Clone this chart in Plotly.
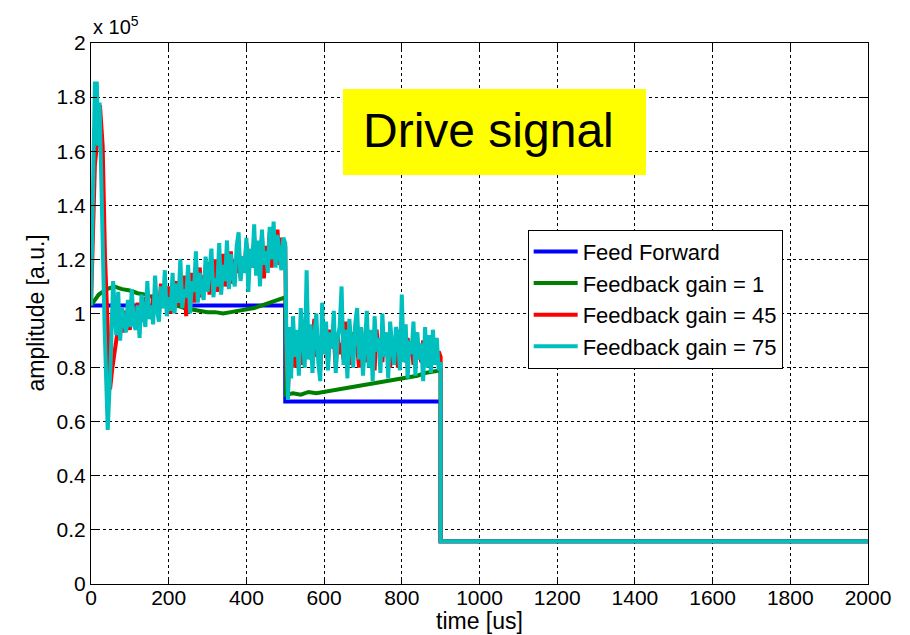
import plotly.graph_objects as go

# ---------------------------------------------------------------
# Drive signal amplitude (units of 1e5 a.u.) versus time in microseconds
# ---------------------------------------------------------------

# Feed forward: piecewise constant drive
ff_time = [0, 500, 500, 900, 900, 2000]
ff_amp = [1.03, 1.03, 0.675, 0.675, 0.158, 0.158]

# Feedback gain = 1: slow correction around the feed-forward level
g1_time = [0, 10, 20, 30, 40, 50, 60, 70, 80, 100, 120, 140, 160, 180, 200,
           220, 240, 260, 280, 300, 320, 340, 360, 380, 400, 420, 440, 460,
           480, 495, 500, 502, 520, 540, 560, 580, 600, 620, 640, 660, 680,
           700, 720, 740, 760, 780, 800, 820, 840, 860, 880, 895, 900, 900,
           2000]
g1_amp = [1.03, 1.05, 1.07, 1.08, 1.09, 1.095, 1.10, 1.095, 1.09, 1.085,
          1.075, 1.07, 1.06, 1.05, 1.04, 1.03, 1.02, 1.015, 1.01, 1.005,
          1.005, 1.0, 1.005, 1.01, 1.015, 1.02, 1.03, 1.04, 1.05, 1.055,
          1.06, 0.70, 0.705, 0.70, 0.71, 0.705, 0.71, 0.715, 0.72, 0.725,
          0.73, 0.735, 0.74, 0.745, 0.75, 0.755, 0.76, 0.765, 0.77, 0.78,
          0.785, 0.79, 0.79, 0.158, 0.158]

# Feedback gain = 45
g45_time = ([0, 5, 10, 15, 23, 30, 36, 44, 49, 55, 62, 70, 75]
            + list(range(80, 500, 5))
            + [500, 503, 507, 512]
            + list(range(515, 900, 5))
            + [900, 900, 2000])
g45_amp = [1.03, 1.30, 1.55, 1.62, 1.77, 1.62, 1.21, 0.91, 0.72, 0.80, 0.88, 0.95, 0.96,
           # 80 .. 495
           0.99, 0.93, 1.01, 0.97, 0.94, 1.03, 0.96, 0.99, 1.04, 0.95,
           1.02, 0.97, 1.06, 0.99, 1.03, 0.98, 1.07, 1.01, 1.05, 1.00,
           1.11, 1.02, 1.08, 1.03, 1.10, 1.00, 1.09, 1.04, 1.12, 1.03,
           1.10, 1.05, 1.14, 0.99, 1.11, 1.06, 1.15, 1.04, 1.13, 1.08,
           1.17, 1.06, 1.14, 1.09, 1.19, 1.07, 1.16, 1.11, 1.20, 1.08,
           1.17, 1.12, 1.22, 1.10, 1.18, 1.13, 1.23, 1.11, 1.20, 1.15,
           1.25, 1.13, 1.21, 1.16, 1.26, 1.14, 1.22, 1.17, 1.28, 1.15,
           1.23, 1.18, 1.29, 1.13, 1.25, 1.19, 1.30, 1.17, 1.26, 1.21,
           1.31, 1.18, 1.28, 1.22,
           # step down at 500
           1.25, 0.80, 0.72, 0.88,
           # 515 .. 895
           0.83, 0.92, 0.80, 0.89, 0.85, 0.94, 0.81, 0.90, 0.86, 0.95,
           0.83, 0.91, 0.98, 0.84, 0.89, 0.79, 0.93, 0.85, 0.90, 0.82,
           0.94, 0.87, 0.91, 0.80, 0.92, 0.85, 0.89, 0.83, 0.97, 0.84,
           0.90, 0.81, 0.93, 0.86, 0.88, 0.80, 0.95, 0.84, 0.89, 0.82,
           0.92, 0.85, 0.90, 0.79, 0.94, 0.86, 0.88, 0.82, 0.93, 0.85,
           0.89, 0.80, 0.91, 0.84, 0.90, 0.80, 0.92, 0.86, 0.88, 0.82,
           0.91, 0.84, 0.89, 0.81, 0.93, 0.85, 0.87, 0.82, 0.90, 0.84,
           0.88, 0.81, 0.92, 0.84, 0.90, 0.82, 0.86,
           # final step
           0.84, 0.158, 0.158]

# Feedback gain = 75
g75_time = ([0, 5, 10, 15, 18, 22, 28, 35, 43, 50, 57]
            + list(range(60, 500, 5))
            + [500, 503, 507, 512]
            + list(range(515, 900, 5))
            + [900, 900, 2000])
g75_amp = [1.03, 1.45, 1.85, 1.85, 1.62, 1.78, 1.35, 0.95, 0.57, 0.80, 1.12,
           # 60 .. 495
           1.06, 0.92, 1.08, 0.90, 1.02, 0.97, 0.93, 1.05, 0.95, 1.09,
           0.96, 0.94, 1.03, 0.91, 1.07, 1.00, 0.95, 1.12, 0.98, 1.03,
           0.96, 1.14, 1.01, 0.97, 1.10, 1.02, 1.16, 0.99, 1.06, 1.01,
           1.15, 1.00, 1.11, 1.04, 1.20, 1.02, 1.09, 1.06, 1.18, 1.00,
           1.12, 1.08, 1.23, 1.04, 1.15, 1.09, 1.05, 1.21, 1.08, 1.16,
           1.24, 1.06, 1.13, 1.10, 1.26, 1.07, 1.18, 1.12, 1.27, 1.09,
           1.22, 1.14, 1.10, 1.25, 1.30, 1.12, 1.21, 1.15, 1.28, 1.08,
           1.24, 1.17, 1.33, 1.14, 1.27, 1.10, 1.31, 1.18, 1.23, 1.15,
           1.32, 1.20, 1.34, 1.17, 1.29, 1.22, 1.16, 1.28,
           # step down at 500
           1.26, 0.90, 0.68, 0.95,
           # 515 .. 895
           0.76, 0.99, 0.84, 0.94, 0.77, 1.02, 0.88, 0.80, 1.16, 0.83,
           0.96, 0.78, 0.92, 1.00, 0.82, 0.75, 1.04, 0.85, 0.97, 0.79,
           0.93, 0.87, 1.01, 0.78, 0.91, 0.95, 1.10, 0.81, 0.94, 0.76,
           0.98, 0.86, 0.80, 0.96, 1.02, 0.83, 0.95, 0.77, 0.89, 1.01,
           0.80, 0.94, 0.75, 0.99, 0.86, 0.91, 0.78, 1.00, 0.84, 0.93,
           0.76, 0.97, 0.88, 0.81, 0.95, 0.92, 0.79, 1.07, 0.82, 0.96,
           0.76, 0.90, 0.85, 0.97, 0.77, 0.93, 0.83, 0.89, 0.75, 0.95,
           0.80, 0.92, 0.78, 0.94, 0.81, 0.91, 0.79,
           # final step
           0.82, 0.158, 0.158]

series = [
    ("Feed Forward", ff_time, ff_amp, "#0000ff"),
    ("Feedback gain = 1", g1_time, g1_amp, "#008000"),
    ("Feedback gain = 45", g45_time, g45_amp, "#ff0000"),
    ("Feedback gain = 75", g75_time, g75_amp, "#00bfbf"),
]

x_ticks = list(range(0, 2001, 200))
y_ticks = [0, 0.2, 0.4, 0.6, 0.8, 1, 1.2, 1.4, 1.6, 1.8, 2]
y_tick_text = ["0", "0.2", "0.4", "0.6", "0.8", "1", "1.2", "1.4", "1.6", "1.8", "2"]

FONT = "Liberation Sans, Arial, Helvetica, sans-serif"

fig = go.Figure()
for name, t, a, color in series:
    fig.add_trace(go.Scatter(x=t, y=a, mode="lines", name=name,
                             line=dict(color=color, width=4)))

axis_common = dict(
    showline=True, linecolor="black", linewidth=1, mirror="ticks",
    ticks="inside", ticklen=6, tickcolor="black",
    showgrid=True, gridcolor="black", gridwidth=1, griddash="dot",
    zeroline=False, tickfont=dict(family=FONT, size=21, color="black"),
)

fig.update_layout(
    width=910, height=635,
    margin=dict(l=91, r=42, t=43, b=51),
    paper_bgcolor="white", plot_bgcolor="white",
    font=dict(family=FONT, color="black"),
    xaxis=dict(range=[0, 2000], tickvals=x_ticks, ticklabelstandoff=-5, **axis_common),
    yaxis=dict(range=[0, 2], tickvals=y_ticks, ticktext=y_tick_text, **axis_common),
    legend=dict(x=0.562, y=0.655, xanchor="left", yanchor="top",
                bgcolor="white", bordercolor="black", borderwidth=1,
                font=dict(family=FONT, size=22, color="black"),
                itemwidth=44, tracegroupgap=0),
    showlegend=True,
)

# Yellow title box
fig.add_shape(type="rect", xref="paper", yref="paper",
              x0=(343 - 91) / 777, x1=(646 - 91) / 777,
              y0=(584 - 175) / 541, y1=(584 - 89) / 541,
              fillcolor="#ffff00", line=dict(width=0), layer="above")
fig.add_annotation(text="Drive signal", xref="paper", yref="paper",
                   x=(361 - 91) / 777, y=(584 - 131) / 541,
                   xanchor="left", yanchor="middle", showarrow=False,
                   font=dict(family=FONT, size=48, color="black"))

# Axis labels
fig.add_annotation(text="time [us]", xref="paper", yref="paper",
                   x=0.5, y=0, yanchor="top", yshift=-22, showarrow=False,
                   font=dict(family=FONT, size=23, color="black"))
fig.add_annotation(text="amplitude [a.u.]", xref="paper", yref="paper",
                   x=0, y=0.5, xanchor="center", yanchor="middle",
                   xshift=-56, textangle=-90, showarrow=False,
                   font=dict(family=FONT, size=23, color="black"))

# Axis multiplier
fig.add_annotation(text="x 10<sup>5</sup>", xref="paper", yref="paper",
                   x=0, y=1, xanchor="left", yanchor="bottom",
                   xshift=0, yshift=3, showarrow=False,
                   font=dict(family=FONT, size=20, color="black"))

fig.write_html("out.html")
